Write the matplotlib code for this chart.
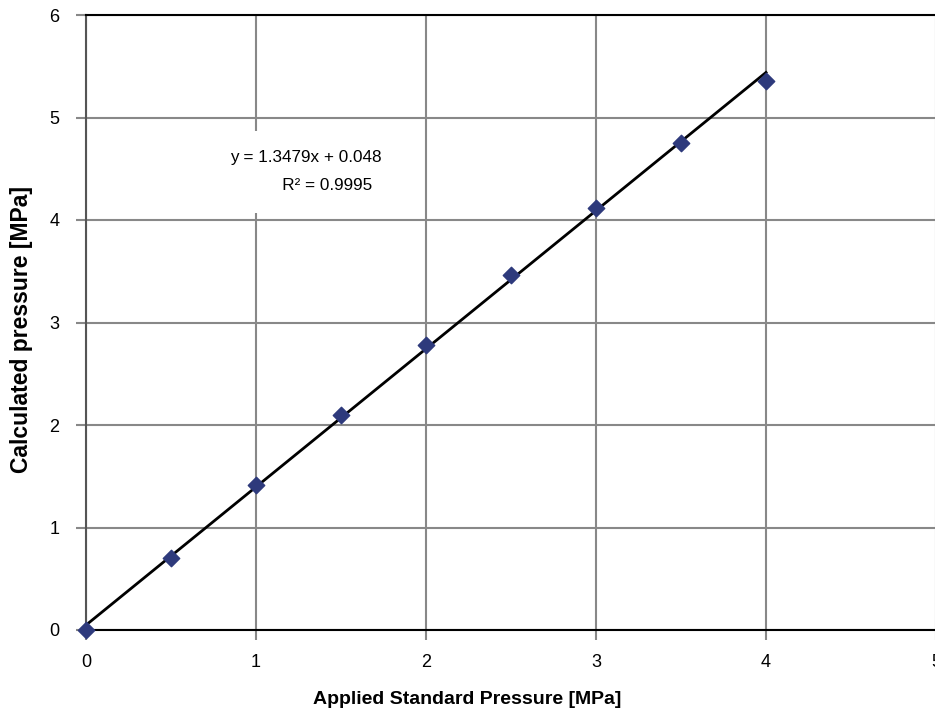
import numpy as np
import matplotlib.pyplot as plt

plt.rcParams['font.family'] = ['Liberation Sans', 'DejaVu Sans']

# measured points
applied = [0.0, 0.5, 1.0, 1.5, 2.0, 2.5, 3.0, 3.5, 4.0]
calculated = [0.0, 0.70, 1.41, 2.10, 2.78, 3.46, 4.12, 4.75, 5.36]

# linear trendline reported on the chart
slope = 1.3479
intercept = 0.048
r2 = 0.9995

fig = plt.figure(figsize=(9.35, 7.11), dpi=100)
ax = fig.add_axes([86 / 935, 81 / 711, 850 / 935, 615 / 711])

xfit = np.array([applied[0], applied[-1]])
ax.plot(xfit, slope * xfit + intercept, color='black', lw=2, zorder=3, clip_on=False)
ax.scatter(applied, calculated, marker='D', s=70, color='#2E3A7C', edgecolors='#2E3A7C',
           zorder=4, clip_on=False)

ax.set_xlim(0, 5)
ax.set_ylim(0, 6)
ax.set_xticks(range(0, 6))
ax.set_yticks(range(0, 7))
ax.grid(True, color='#888888', lw=1.5)
ax.set_axisbelow(True)
for s in ['left', 'bottom', 'top']:
    ax.spines[s].set_color('black')
    ax.spines[s].set_linewidth(1.5)
ax.spines['left'].set_color('#555555')
ax.spines['right'].set_visible(False)
ax.tick_params(axis='both', labelsize=13, length=7, width=1.5, color='#888888', pad=10)
ax.tick_params(axis='y', pad=12)

ax.set_xlabel('Applied Standard Pressure [MPa]', fontsize=14, fontweight='bold')
ax.xaxis.set_label_coords(0.449, -0.1)
ax.set_ylabel('Calculated pressure [MPa]', fontsize=16.5, fontweight='bold')
ax.yaxis.set_label_coords(-0.062, 0.488)

ax.text(0.85, 4.47, f'y = {slope}x + {intercept}\n           R\u00b2 = {r2}', fontsize=12.3,
        ha='left', va='center', linespacing=2.1,
        bbox=dict(facecolor='white', edgecolor='none', pad=14), zorder=2)

fig.savefig('out.png', dpi=100)
